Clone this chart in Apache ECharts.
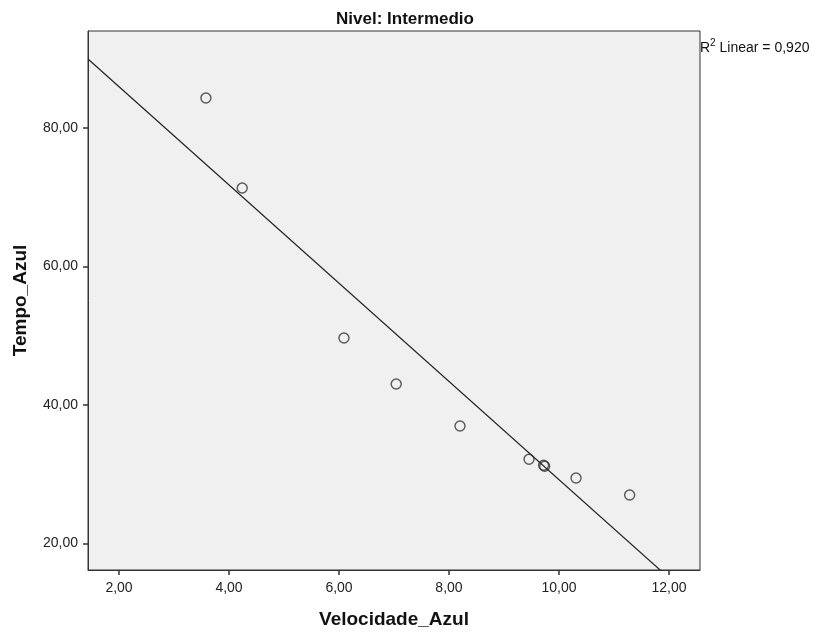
<!DOCTYPE html>
<html>
<head>
<meta charset="utf-8">
<script src="https://cdn.jsdelivr.net/npm/echarts@6/dist/echarts.min.js"></script>
<style>html,body{margin:0;padding:0;background:#fff;}#c{width:816px;height:637px;}</style>
</head>
<body>
<div id="c"></div>
<script>
const title = 'Nivel: Intermedio';
const xName = 'Velocidade_Azul';
const yName = 'Tempo_Azul';
const velocidade = [3.58, 4.24, 6.09, 7.04, 8.20, 9.455, 9.72, 9.74, 10.31, 11.285];
const tempo = [84.33, 71.34, 49.68, 43.03, 36.97, 32.16, 31.30, 31.15, 29.46, 27.00];
const xTicks = [2, 4, 6, 8, 10, 12];
const yTicks = [20, 40, 60, 80];
const r2Label = '0,920';
const xRange = [1.436, 12.564];
const yRange = [16.17, 94.0];

// least squares fit
const n = velocidade.length;
const mx = velocidade.reduce((a, b) => a + b, 0) / n;
const my = tempo.reduce((a, b) => a + b, 0) / n;
let sxy = 0, sxx = 0;
for (let i = 0; i < n; i++) { sxy += (velocidade[i] - mx) * (tempo[i] - my); sxx += (velocidade[i] - mx) ** 2; }
const slope = sxy / sxx;
const intercept = my - slope * mx;
const fitLine = [xRange[0], xRange[1]].map(x => [x, intercept + slope * x]);

const fmt = v => v.toFixed(2).replace('.', ',');
const font = 'Liberation Sans, Arial, sans-serif';

const chart = echarts.init(document.getElementById('c'));
chart.setOption({
  animation: false,
  backgroundColor: '#fff',
  title: {
    text: title, left: 400, top: 6, textAlign: 'center',
    textStyle: { fontFamily: font, fontSize: 17, fontWeight: 'bold', color: '#111' }
  },
  grid: {
    left: 88, right: 116, top: 31, bottom: 67,
    show: true, backgroundColor: '#f0f0f0', borderColor: '#333', borderWidth: 1
  },
  xAxis: {
    type: 'value', min: xRange[0], max: xRange[1],
    name: xName, nameLocation: 'middle', nameGap: 40,
    nameTextStyle: { fontFamily: font, fontSize: 19, fontWeight: 'bold', color: '#111' },
    splitLine: { show: false },
    axisLine: { show: true, lineStyle: { color: '#333' } },
    axisTick: { show: true, length: 5, customValues: xTicks, lineStyle: { color: '#333', width: 1.5 } },
    axisLabel: { customValues: xTicks, formatter: fmt, fontFamily: font, fontSize: 14, color: '#222', margin: 11 }
  },
  yAxis: {
    type: 'value', min: yRange[0], max: yRange[1],
    name: yName, nameLocation: 'middle', nameGap: 58, nameRotate: 90,
    nameTextStyle: { fontFamily: font, fontSize: 19, fontWeight: 'bold', color: '#111' },
    splitLine: { show: false },
    axisLine: { show: true, lineStyle: { color: '#333' } },
    axisTick: { show: true, length: 5, customValues: yTicks, lineStyle: { color: '#333', width: 1.5 } },
    axisLabel: { customValues: yTicks, formatter: fmt, fontFamily: font, fontSize: 14, color: '#222', margin: 10 }
  },
  graphic: [{
    type: 'text', left: 700, top: 38,
    style: {
      text: '{s|R}{p|2}{s| Linear = ' + r2Label + '}',
      rich: {
        s: { fontFamily: font, fontSize: 14, fill: '#111', verticalAlign: 'bottom' },
        p: { fontFamily: font, fontSize: 10, fill: '#111', verticalAlign: 'top', padding: [0, 0, 7, 0] }
      }
    }
  }],
  series: [
    {
      type: 'line', data: fitLine, showSymbol: false, clip: true, silent: true,
      lineStyle: { color: '#222', width: 1.2 }
    },
    {
      type: 'scatter', data: velocidade.map((x, i) => [x, tempo[i]]),
      symbol: 'circle', symbolSize: 10,
      itemStyle: { color: 'rgba(0,0,0,0)', borderColor: '#333', borderWidth: 1.4 }
    }
  ]
});
</script>
</body>
</html>
